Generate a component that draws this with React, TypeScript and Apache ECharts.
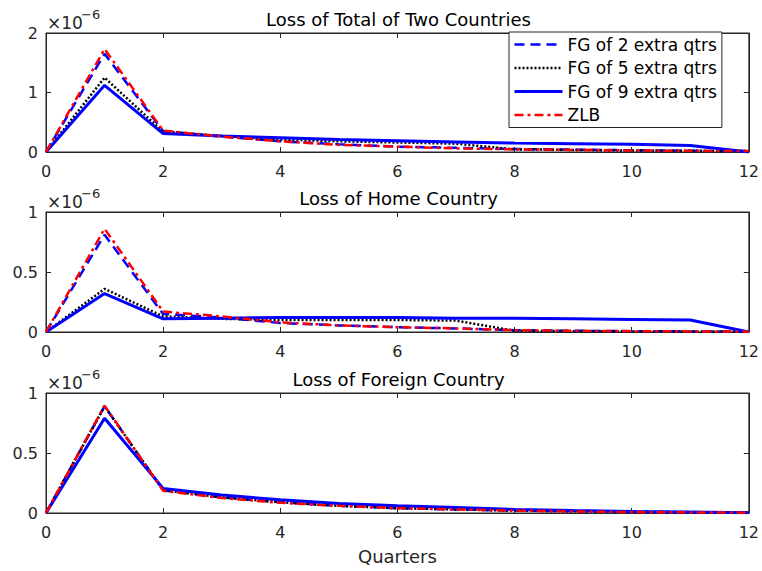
import React, { useEffect, useRef } from "react";
import * as echarts from "echarts";

// Values in units of 1e-6 (the axes show the ×10^-6 multiplier)
const quarters = [0, 1, 2, 3, 4, 5, 6, 7, 8, 9, 10, 11, 12];
const seriesNames = ["FG of 2 extra qtrs", "FG of 5 extra qtrs", "FG of 9 extra qtrs", "ZLB"];
const titles = ["Loss of Total of Two Countries", "Loss of Home Country", "Loss of Foreign Country"];

const totalFG2 = [0, 1.65, 0.35, 0.26, 0.18, 0.13, 0.09, 0.07, 0.05, 0.04, 0.03, 0.02, 0.015];
const totalFG5 = [0, 1.25, 0.34, 0.27, 0.21, 0.18, 0.16, 0.14, 0.045, 0.035, 0.025, 0.02, 0.015];
const totalFG9 = [0, 1.12, 0.31, 0.27, 0.24, 0.21, 0.19, 0.17, 0.15, 0.14, 0.13, 0.11, 0.0];
const totalZLB = [0, 1.73, 0.36, 0.26, 0.18, 0.12, 0.09, 0.06, 0.045, 0.035, 0.025, 0.02, 0.015];

const homeFG2 = [0, 0.81, 0.15, 0.12, 0.075, 0.055, 0.04, 0.03, 0.015, 0.01, 0.007, 0.005, 0.003];
const homeFG5 = [0, 0.36, 0.13, 0.11, 0.1, 0.1, 0.1, 0.095, 0.01, 0.007, 0.005, 0.004, 0.003];
const homeFG9 = [0, 0.32, 0.11, 0.115, 0.12, 0.12, 0.12, 0.115, 0.115, 0.11, 0.105, 0.1, 0.0];
const homeZLB = [0, 0.86, 0.17, 0.13, 0.08, 0.055, 0.04, 0.03, 0.015, 0.01, 0.007, 0.005, 0.003];

const foreignFG2 = [0, 0.89, 0.19, 0.13, 0.09, 0.06, 0.04, 0.03, 0.02, 0.015, 0.01, 0.005, 0.003];
const foreignFG5 = [0, 0.89, 0.19, 0.13, 0.09, 0.06, 0.04, 0.03, 0.02, 0.015, 0.01, 0.005, 0.003];
const foreignFG9 = [0, 0.79, 0.205, 0.15, 0.11, 0.08, 0.06, 0.045, 0.03, 0.02, 0.013, 0.008, 0.003];
const foreignZLB = [0, 0.895, 0.185, 0.125, 0.085, 0.06, 0.04, 0.03, 0.02, 0.013, 0.008, 0.005, 0.003];

const yMaxes = [2, 1, 1];
const yIntervals = [1, 0.5, 0.5];

const panels = [
  [totalFG2, totalFG5, totalFG9, totalZLB],
  [homeFG2, homeFG5, homeFG9, homeZLB],
  [foreignFG2, foreignFG5, foreignFG9, foreignZLB],
];

const FONT = "'DejaVu Sans', sans-serif";
const AX = "#262626";

const lineStyles = [
  { color: "#0000FF", width: 2.5, type: [10, 6] },
  { color: "#000000", width: 2.5, type: [2, 2] },
  { color: "#0000FF", width: 3, type: "solid" },
  { color: "#FF0000", width: 2.5, type: [9, 4, 3, 4] },
];

export default function App() {
  const ref = useRef<HTMLDivElement>(null);
  useEffect(() => {
    if (!ref.current) return;
    const chart = echarts.init(ref.current, undefined, { renderer: "svg" });
    const L = 46;
    const R = 11;
    const tops = [33, 212, 393];
    const heights = [119, 120, 120];

    const grids: any[] = [];
    const xAxes: any[] = [];
    const yAxes: any[] = [];
    const series: any[] = [];
    const graphics: any[] = [];

    panels.forEach((arrs, p) => {
      grids.push({
        left: L, right: R, top: tops[p], height: heights[p],
        show: true, borderColor: AX, borderWidth: 1, backgroundColor: "#fff",
      });
      const base = {
        gridIndex: p, type: "value", min: 0, max: 12, interval: 2,
        axisLine: { show: true, onZero: false, lineStyle: { color: AX, width: 1 } },
        axisTick: { show: true, inside: true, length: 5, lineStyle: { color: AX } },
        splitLine: { show: false },
      };
      xAxes.push({
        ...base, position: "bottom",
        axisLabel: { show: true, color: AX, fontSize: 16, fontFamily: FONT, margin: 11 },
        ...(p === 2 ? {
          name: "Quarters", nameLocation: "middle", nameGap: 34,
          nameTextStyle: { color: AX, fontSize: 18, fontFamily: FONT },
        } : {}),
      });
      xAxes.push({ ...base, position: "top", axisLabel: { show: false } });
      const ybase = {
        gridIndex: p, type: "value", min: 0, max: yMaxes[p], interval: yIntervals[p],
        axisLine: { show: true, onZero: false, lineStyle: { color: AX, width: 1 } },
        axisTick: { show: true, inside: true, length: 5, lineStyle: { color: AX } },
        splitLine: { show: false },
      };
      yAxes.push({
        ...ybase, position: "left",
        axisLabel: { show: true, color: AX, fontSize: 16, fontFamily: FONT, margin: 8 },
      });
      yAxes.push({ ...ybase, position: "right", axisLabel: { show: false } });

      arrs.forEach((vals, s) => {
        series.push({
          type: "line",
          name: seriesNames[s],
          xAxisIndex: p * 2,
          yAxisIndex: p * 2,
          data: quarters.map((q, i) => [q, vals[i]]),
          showSymbol: false,
          symbol: "none",
          lineStyle: lineStyles[s],
          itemStyle: { color: lineStyles[s].color },
          z: 2 + s,
        });
      });

      graphics.push({
        type: "text", x: 398.5, y: tops[p] - 14,
        style: {
          text: titles[p], fontSize: 18, fontFamily: FONT, fill: "#000",
          align: "center", verticalAlign: "middle",
        },
      });
      graphics.push({
        type: "text", x: L + 1, y: tops[p] - 10,
        style: { text: "×10", fontSize: 17, fontFamily: FONT, fill: AX, verticalAlign: "middle" },
      });
      graphics.push({
        type: "text", x: L + 35, y: tops[p] - 19,
        style: { text: "−6", fontSize: 13, fontFamily: FONT, fill: AX, verticalAlign: "middle" },
      });
    });

    chart.setOption({
      animation: false,
      backgroundColor: "#fff",
      grid: grids,
      xAxis: xAxes,
      yAxis: yAxes,
      series,
      graphic: graphics,
      legend: {
        data: seriesNames,
        orient: "vertical",
        left: 509,
        top: 32,
        padding: [4, 5, 4, 4],
        itemWidth: 48,
        itemHeight: 14,
        itemGap: 6.5,
        backgroundColor: "#fff",
        borderColor: AX,
        borderWidth: 1,
        borderRadius: 0,
        textStyle: { color: "#000", fontSize: 17, fontFamily: FONT },
        itemStyle: { opacity: 0, borderWidth: 0 },
        lineStyle: { type: "inherit", width: "inherit", opacity: 1 },
        selectedMode: false,
      },
    });
    return () => chart.dispose();
  }, []);
  return (
    <div
      ref={ref}
      style={{ position: "fixed", left: 0, top: 0, width: 762, height: 571 }}
    />
  );
}
